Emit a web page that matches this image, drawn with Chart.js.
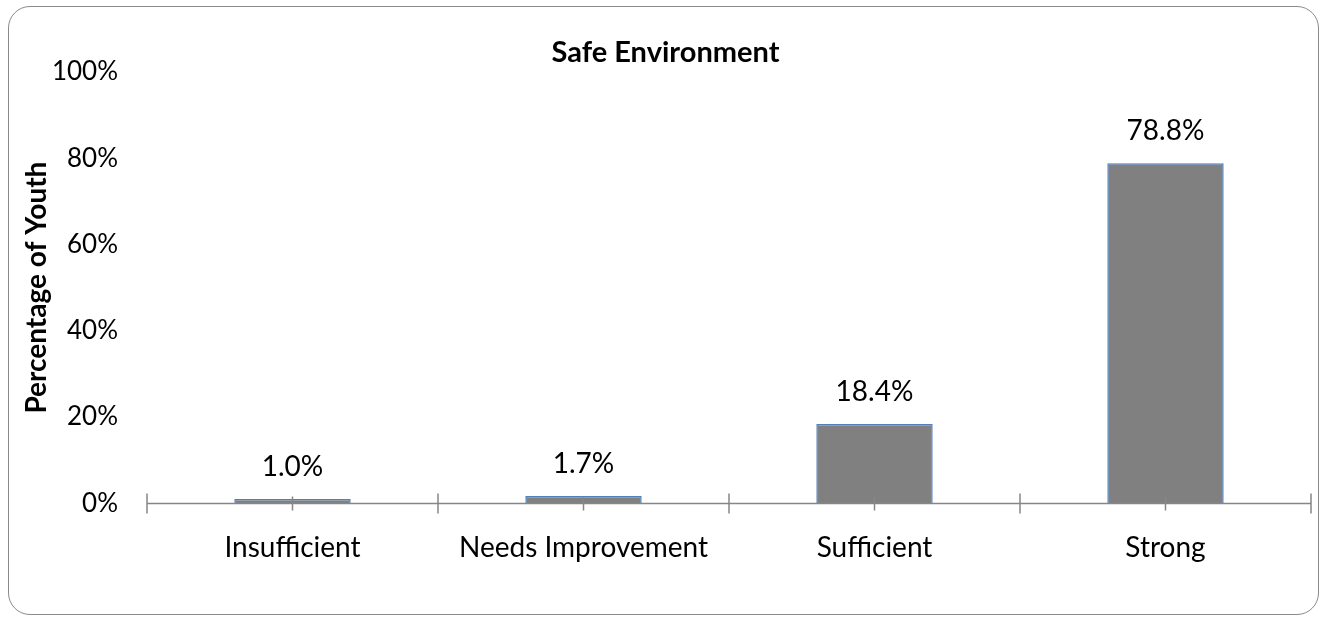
<!DOCTYPE html>
<html>
<head>
<meta charset="utf-8">
<script src="https://cdn.jsdelivr.net/npm/chart.js@4.4.0/dist/chart.umd.min.js"></script>
<style>
  html, body { margin: 0; padding: 0; background: #fff; }
  #wrap { position: relative; width: 1330px; height: 624px; }
  #frame {
    position: absolute; left: 8px; top: 6px; width: 1311px; height: 609px;
    border: 1.5px solid #8a8a8a; border-radius: 22px; box-sizing: border-box;
  }
  canvas { position: absolute; left: 0; top: 0; }
</style>
</head>
<body>
<div id="wrap">
  <div id="frame"></div>
  <canvas id="chart" width="1330" height="624"></canvas>
</div>
<script>
var categories = ["Insufficient", "Needs Improvement", "Sufficient", "Strong"];
var youthPct = [1.0, 1.7, 18.4, 78.8];
var yTicks = [0, 20, 40, 60, 80, 100];

var font_family = "Lato, 'Open Sans', sans-serif";
var axis_color = "#868686";

// value labels above each bar
var barLabels = {
    id: 'barLabels',
    afterDatasetsDraw: function(chart) {
        var ctx = chart.ctx;
        var meta = chart.getDatasetMeta(0);
        ctx.save();
        ctx.font = "28px " + font_family;
        ctx.fillStyle = "#000";
        ctx.textAlign = "center";
        ctx.textBaseline = "alphabetic";
        meta.data.forEach(function(bar, i) {
            ctx.fillText(youthPct[i].toFixed(1) + "%", bar.x, bar.y - 23);
        });
        ctx.restore();
    }
};

// excel style cross tick marks on the category axis
var crossTicks = {
    id: 'crossTicks',
    afterDatasetsDraw: function(chart) {
        var ctx = chart.ctx;
        var xs = chart.scales.x;
        var y0 = chart.scales.y.getPixelForValue(0);
        ctx.save();
        ctx.strokeStyle = axis_color;
        ctx.lineWidth = 1.5;
        ctx.beginPath();
        ctx.moveTo(xs.left, y0);
        ctx.lineTo(xs.right, y0);
        for (var i = 0; i <= categories.length; i++) {
            var bx = xs.getPixelForValue(i - 0.5);
            ctx.moveTo(bx, y0 - 10);
            ctx.lineTo(bx, y0 + 10);
        }
        for (var j = 0; j < categories.length; j++) {
            var cx = xs.getPixelForValue(j);
            ctx.moveTo(cx, y0 - 7);
            ctx.lineTo(cx, y0 + 7);
        }
        ctx.stroke();
        ctx.restore();
    }
};

var ChartData = {
    labels: categories,
    datasets: [{
        data: youthPct,
        backgroundColor: "#808080",
        borderColor: "#4f81bd",
        borderWidth: 1.5,
        barPercentage: 0.8,
        categoryPercentage: 0.5
    }]
};

var chartOptions = {
    responsive: false,
    animation: false,
    layout: { padding: { top: 35, right: 19, bottom: 39, left: 20 } },
    plugins: {
        legend: { display: false },
        tooltip: { enabled: false },
        title: {
            display: true,
            text: "Safe Environment",
            color: "#000",
            font: { family: font_family, size: 29, weight: "bold" },
            padding: { top: 0, bottom: 2 }
        }
    },
    scales: {
        x: {
            grid: { display: false },
            border: { display: false },
            ticks: {
                color: "#000",
                font: { family: font_family, size: 28 },
                padding: 20,
                maxRotation: 0
            }
        },
        y: {
            min: 0,
            max: 100,
            afterBuildTicks: function(axis) {
                axis.ticks = yTicks.map(function(v) { return { value: v }; });
            },
            afterFit: function(axis) {
                axis.width = 127;
            },
            grid: { display: false, drawTicks: false },
            border: { display: false },
            ticks: {
                color: "#000",
                font: { family: font_family, size: 26 },
                padding: 29,
                callback: function(v) { return v + "%"; }
            },
            title: {
                display: true,
                text: "Percentage of Youth",
                color: "#000",
                font: { family: font_family, size: 28, weight: "bold" },
                padding: { top: 0, bottom: 0 }
            }
        }
    }
};

var ctx = document.getElementById("chart").getContext("2d");
var barChart = new Chart(ctx, {
    type: "bar",
    data: ChartData,
    options: chartOptions,
    plugins: [barLabels, crossTicks]
});
</script>
</body>
</html>
